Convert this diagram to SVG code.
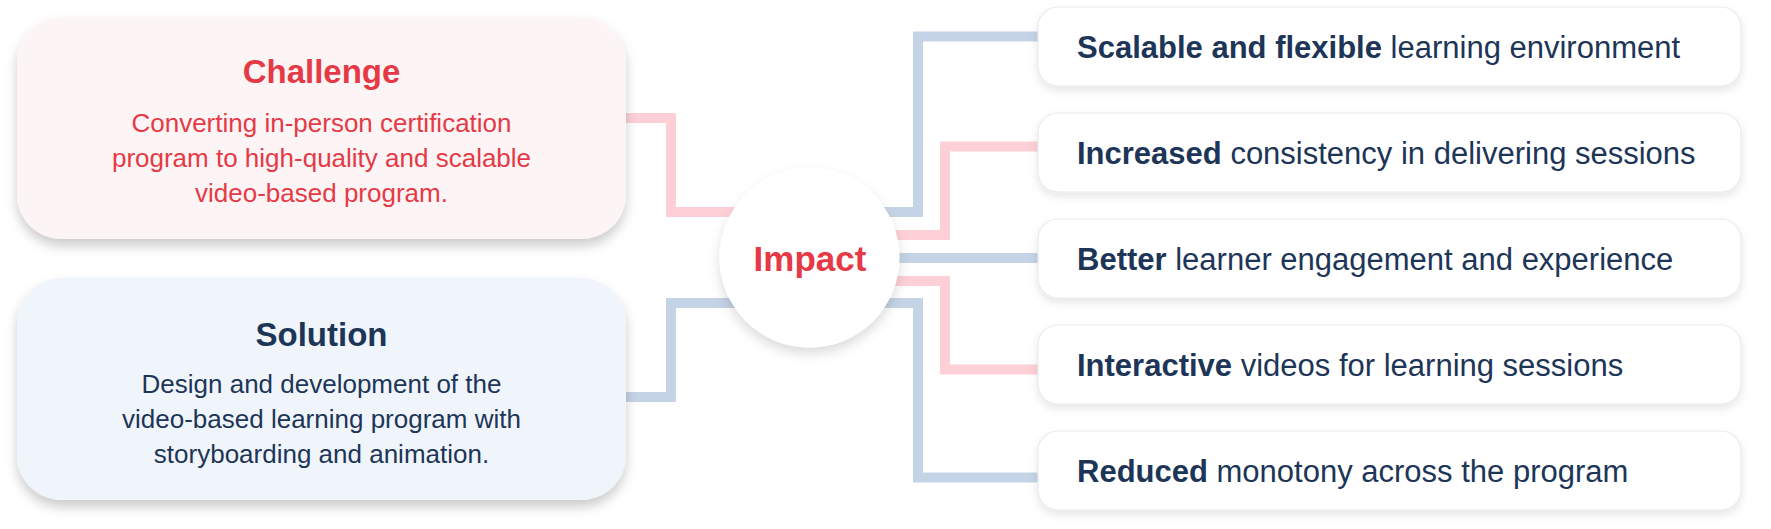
<svg xmlns="http://www.w3.org/2000/svg" width="1771" height="529" viewBox="0 0 1771 529">
<style>
text{font-family:"Liberation Sans",Arial,sans-serif}
.title{font-size:33px;font-weight:700;text-anchor:middle}
.body{font-size:26px;text-anchor:middle}
.red{fill:#e63946}
.navy{fill:#1d3557}
.item{font-size:31px;fill:#1d3557}
.b{font-weight:700}
.pk{fill:none;stroke:#fcd0d6;stroke-width:10}
.bl{fill:none;stroke:#c5d3e6;stroke-width:10}
.rbox{fill:#ffffff;stroke:#e8eaee;stroke-width:1.2}
</style>
<defs>
<filter id="sh" x="-10%" y="-20%" width="120%" height="150%">
<feDropShadow dx="0" dy="7" stdDeviation="6" flood-color="#000" flood-opacity="0.2"/>
</filter>
<filter id="sh2" x="-5%" y="-30%" width="110%" height="170%">
<feDropShadow dx="0" dy="4" stdDeviation="4" flood-color="#000" flood-opacity="0.1"/>
</filter>
<filter id="sh3" x="-30%" y="-30%" width="160%" height="160%">
<feDropShadow dx="0" dy="6" stdDeviation="6" flood-color="#000" flood-opacity="0.14"/>
</filter>
</defs>
<rect width="1771" height="529" fill="#ffffff"/>
<g id="connectors">
<path class="pk" d="M620 118H671V212H800"/>
<path class="bl" d="M620 397H671V303H800"/>
<path class="bl" d="M800 212H918V36.5H1040"/>
<path class="pk" d="M800 235H945V146.5H1040"/>
<path class="bl" d="M800 258H1040"/>
<path class="pk" d="M800 281H945V369.5H1040"/>
<path class="bl" d="M800 303H918V477.5H1040"/>
</g>
<g id="challenge">
<rect x="17" y="17" width="609" height="222" rx="45" fill="#fdf5f5" filter="url(#sh)"/>
<text class="title red" x="321.5" y="83">Challenge</text>
<text class="body red" x="321.5" y="132">Converting in-person certification</text>
<text class="body red" x="321.5" y="167">program to high-quality and scalable</text>
<text class="body red" x="321.5" y="202">video-based program.</text>
</g>
<g id="solution">
<rect x="17" y="278" width="609" height="222" rx="45" fill="#f0f5fc" filter="url(#sh)"/>
<text class="title navy" x="321.5" y="346">Solution</text>
<text class="body navy" x="321.5" y="393">Design and development of the</text>
<text class="body navy" x="321.5" y="428">video-based learning program with</text>
<text class="body navy" x="321.5" y="463">storyboarding and animation.</text>
</g>
<g id="impact">
<circle cx="809.5" cy="257.5" r="90" fill="#ffffff" filter="url(#sh3)"/>
<text x="810" y="271" font-size="35" font-weight="700" fill="#e63946" text-anchor="middle">Impact</text>
</g>
<g id="item1">
<rect class="rbox" x="1038" y="7" width="703" height="79" rx="20" filter="url(#sh2)"/>
<text class="item" x="1077" y="58"><tspan class="b">Scalable and flexible</tspan> learning environment</text>
</g>
<g id="item2">
<rect class="rbox" x="1038" y="113" width="703" height="79" rx="20" filter="url(#sh2)"/>
<text class="item" x="1077" y="164"><tspan class="b">Increased</tspan> consistency in delivering sessions</text>
</g>
<g id="item3">
<rect class="rbox" x="1038" y="219" width="703" height="79" rx="20" filter="url(#sh2)"/>
<text class="item" x="1077" y="270"><tspan class="b">Better</tspan> learner engagement and experience</text>
</g>
<g id="item4">
<rect class="rbox" x="1038" y="325" width="703" height="79" rx="20" filter="url(#sh2)"/>
<text class="item" x="1077" y="376"><tspan class="b">Interactive</tspan> videos for learning sessions</text>
</g>
<g id="item5">
<rect class="rbox" x="1038" y="431" width="703" height="79" rx="20" filter="url(#sh2)"/>
<text class="item" x="1077" y="482"><tspan class="b">Reduced</tspan> monotony across the program</text>
</g>
</svg>
